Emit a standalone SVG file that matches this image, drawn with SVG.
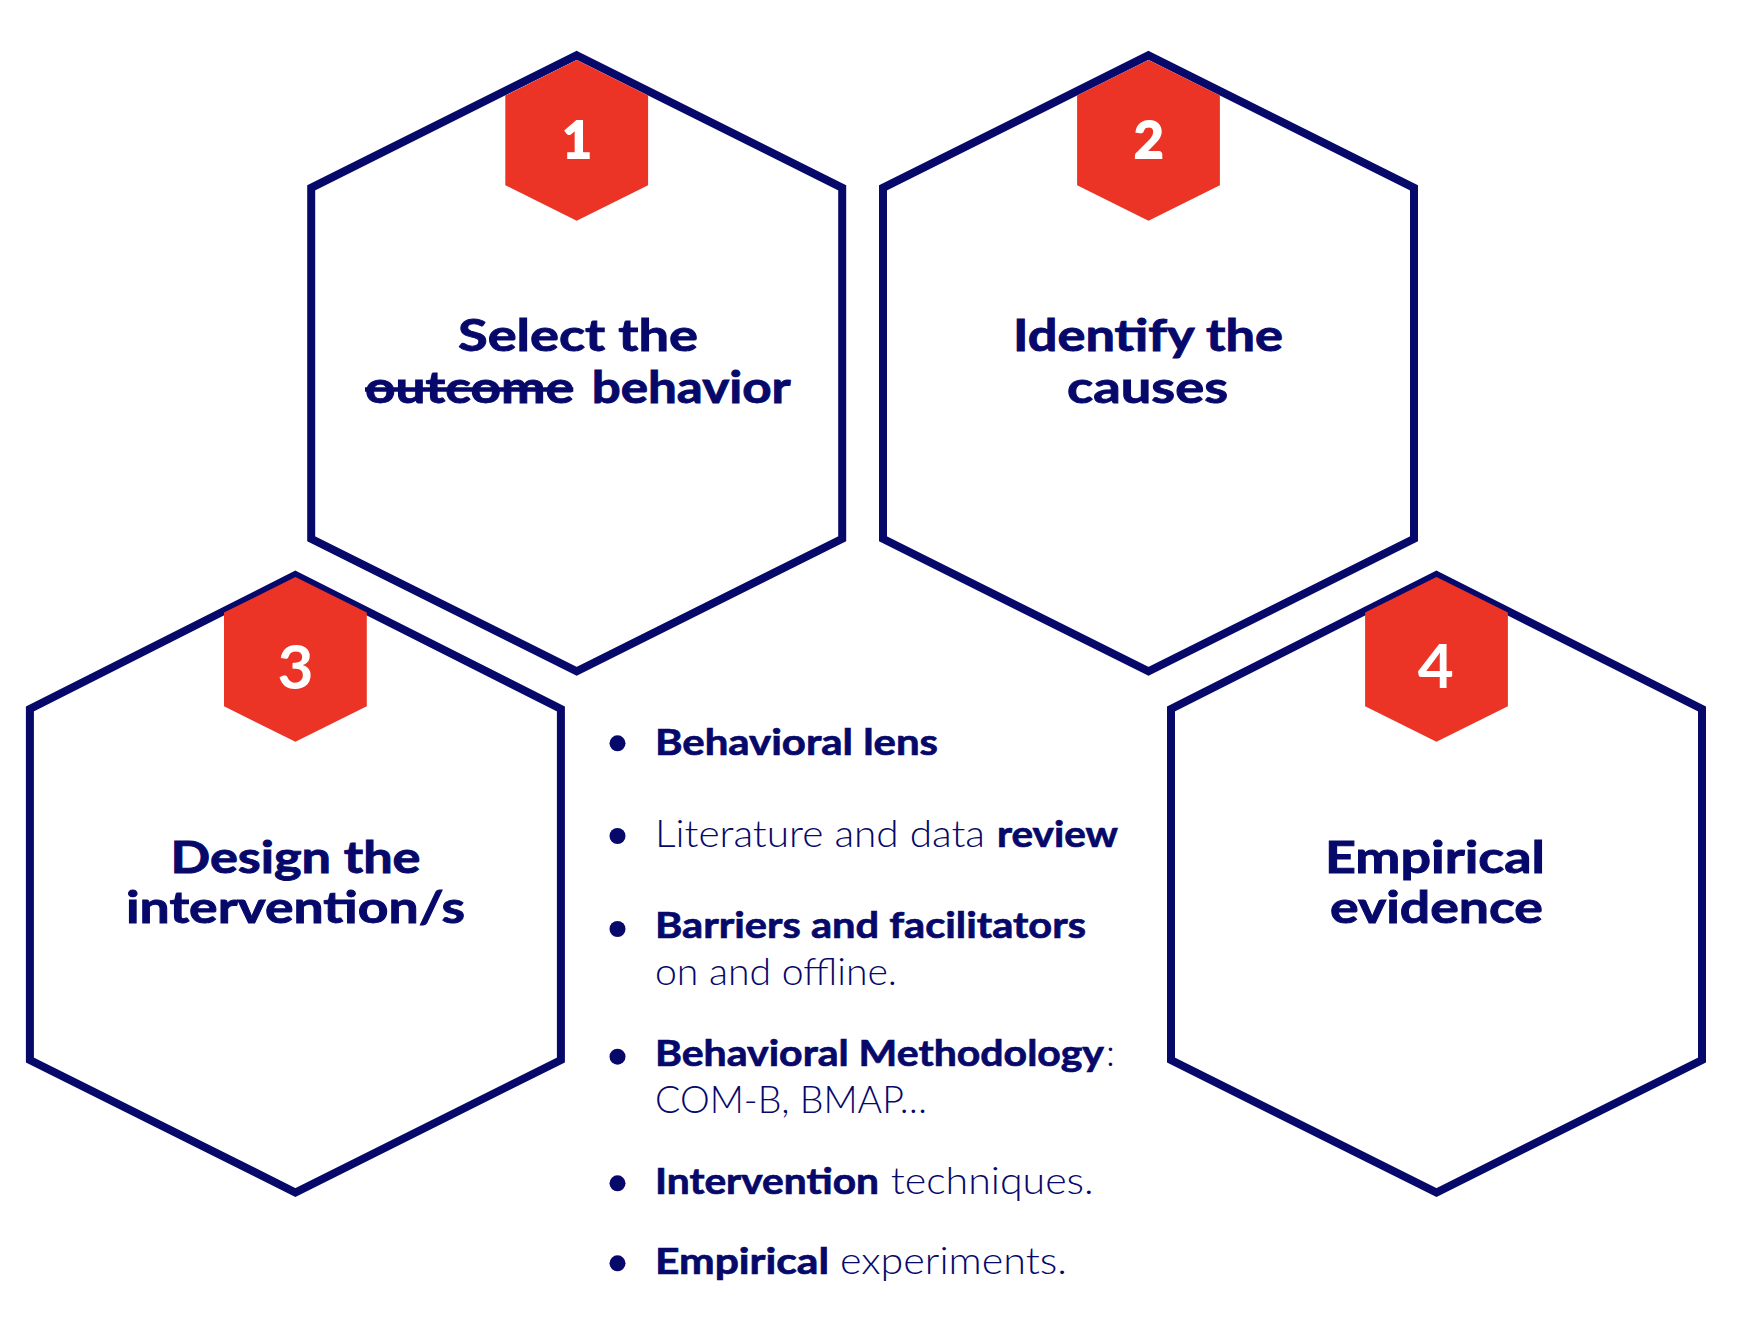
<svg xmlns="http://www.w3.org/2000/svg" width="1744" height="1328" viewBox="0 0 1744 1328">
<style>
.hex{fill:#ffffff;stroke:#06086A;stroke-width:8;stroke-linejoin:miter}
.badge{fill:#EB3425}
.num{font-family:Lato,"Open Sans","Liberation Sans",sans-serif;font-weight:700;fill:#ffffff;stroke:#ffffff;stroke-width:2;text-anchor:middle}
.num2{font-family:Lato,"Open Sans","Liberation Sans",sans-serif;font-weight:700;fill:#ffffff;text-anchor:middle}
.title{font-family:Lato,"Open Sans","Liberation Sans",sans-serif;font-weight:700;font-size:44px;fill:#06086A;stroke:#06086A;stroke-width:0.9}
.b{font-family:Lato,"Open Sans","Liberation Sans",sans-serif;font-weight:700;font-size:37px;fill:#06086A;stroke:#06086A;stroke-width:0.7}
.l{font-family:Lato,"Open Sans","Liberation Sans",sans-serif;font-weight:300;font-size:37px;fill:#06086A}
.dot{fill:#06086A}
</style>
<rect x="0" y="0" width="1744" height="1328" fill="#ffffff"/>
<g id="connectors"></g>
<g id="node1">
<polygon class="hex" points="576.7,55.3 842.2,187.8 842.2,538.8 576.7,671.3 311.2,538.8 311.2,187.8"/>
<polygon class="badge" points="576.7,60 648.1,95.6 648.1,185.2 576.7,220.8 505.3,185.2 505.3,95.6"/>
<text class="num" x="577" y="158.3" font-size="51">1</text>
<text class="title" x="458" y="350.5" textLength="240" lengthAdjust="spacingAndGlyphs">Select the</text>
<text class="title" x="365" y="403" textLength="209" lengthAdjust="spacingAndGlyphs">outcome</text>
<line x1="365" y1="389.5" x2="573.3" y2="389.5" stroke="#06086A" stroke-width="4.5"/>
<text class="title" x="591.7" y="403" textLength="199" lengthAdjust="spacingAndGlyphs">behavior</text>
</g>
<g id="node2">
<polygon class="hex" points="1148.5,55.3 1414,187.8 1414,538.8 1148.5,671.3 883,538.8 883,187.8"/>
<polygon class="badge" points="1148.5,60 1219.9,95.6 1219.9,185.2 1148.5,220.8 1077.1,185.2 1077.1,95.6"/>
<text class="num" x="1148.7" y="158.3" font-size="51">2</text>
<text class="title" x="1013" y="350.5" textLength="270" lengthAdjust="spacingAndGlyphs">Identify the</text>
<text class="title" x="1067" y="403" textLength="161" lengthAdjust="spacingAndGlyphs">causes</text>
</g>
<g id="node3">
<polygon class="hex" points="295.4,575 560.9,709 560.9,1060 295.4,1192.5 29.9,1060 29.9,709"/>
<polygon class="badge" points="295.4,577 366.8,612.6 366.8,706.2 295.4,741.8 224,706.2 224,612.6"/>
<text class="num2" x="295.4" y="689" font-size="62">3</text>
<text class="title" x="170.5" y="872.5" textLength="250" lengthAdjust="spacingAndGlyphs">Design the</text>
<text class="title" x="126" y="923" textLength="339" lengthAdjust="spacingAndGlyphs">intervention/s</text>
</g>
<g id="node4">
<polygon class="hex" points="1436.5,575 1702,709 1702,1060 1436.5,1192.5 1171,1060 1171,709"/>
<polygon class="badge" points="1436.5,577 1507.9,612.6 1507.9,706.2 1436.5,741.8 1365.1,706.2 1365.1,612.6"/>
<text class="num2" x="1435.7" y="688" font-size="62">4</text>
<text class="title" x="1325" y="872.5" textLength="220" lengthAdjust="spacingAndGlyphs">Empirical</text>
<text class="title" x="1330" y="923" textLength="213" lengthAdjust="spacingAndGlyphs">evidence</text>
</g>
<g id="bullets">
<circle class="dot" cx="617.5" cy="743.3" r="8"/>
<text class="b" x="655" y="755" textLength="283" lengthAdjust="spacingAndGlyphs">Behavioral lens</text>
<circle class="dot" cx="617.5" cy="836" r="8"/>
<text class="l" x="655" y="846.7" textLength="330" lengthAdjust="spacingAndGlyphs">Literature and data</text>
<text class="b" x="997" y="846.7" textLength="121" lengthAdjust="spacingAndGlyphs">review</text>
<circle class="dot" cx="617.5" cy="929" r="8"/>
<text class="b" x="655" y="938.3" textLength="431" lengthAdjust="spacingAndGlyphs">Barriers and facilitators</text>
<text class="l" x="655" y="985" textLength="242" lengthAdjust="spacingAndGlyphs">on and offline.</text>
<circle class="dot" cx="617.5" cy="1056.7" r="8"/>
<text class="b" x="655" y="1066" textLength="449" lengthAdjust="spacingAndGlyphs">Behavioral Methodology</text>
<text class="l" x="1106" y="1066">:</text>
<text class="l" x="655" y="1112.7" textLength="272" lengthAdjust="spacingAndGlyphs">COM-B, BMAP…</text>
<circle class="dot" cx="617.5" cy="1183.3" r="8"/>
<text class="b" x="655" y="1194" textLength="224" lengthAdjust="spacingAndGlyphs">Intervention</text>
<text class="l" x="890.7" y="1194" textLength="203" lengthAdjust="spacingAndGlyphs">techniques.</text>
<circle class="dot" cx="617.5" cy="1263.3" r="8"/>
<text class="b" x="655" y="1274" textLength="174" lengthAdjust="spacingAndGlyphs">Empirical</text>
<text class="l" x="840" y="1274" textLength="227" lengthAdjust="spacingAndGlyphs">experiments.</text>
</g>
</svg>
